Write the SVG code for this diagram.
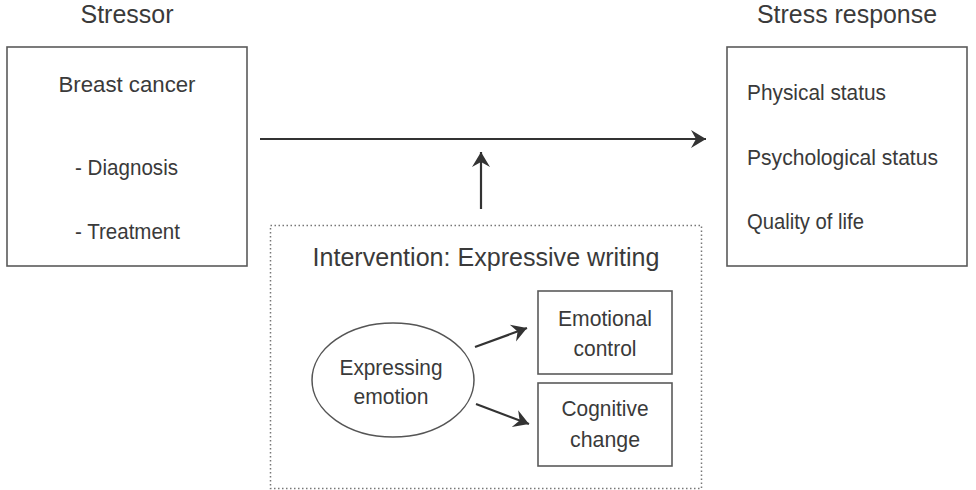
<svg xmlns="http://www.w3.org/2000/svg" width="976" height="490" viewBox="0 0 976 490">
<defs>
<style>
text{font-family:"Liberation Sans",Arial,sans-serif;fill:#3a3a3a;}
.box{fill:#fff;stroke:#5a5a5a;stroke-width:1.6;}
.edge{stroke:#333;stroke-width:2.2;fill:none;}
.title{font-size:25px;}
.lbl{font-size:22px;}
</style>
<marker id="ah" viewBox="-16 -10 18 20" markerWidth="18" markerHeight="20" refX="0" refY="0" orient="auto" markerUnits="userSpaceOnUse">
<path d="M0,0 L-15,-9 L-10,0 L-15,9 Z" fill="#333"/>
</marker>
</defs>
<rect width="976" height="490" fill="#fff"/>
<g id="stressor">
<text class="title" x="127" y="23" text-anchor="middle" textLength="93" lengthAdjust="spacingAndGlyphs">Stressor</text>
<rect class="box" x="7" y="47" width="240" height="219"/>
<text class="lbl" x="127" y="92" text-anchor="middle" textLength="137" lengthAdjust="spacingAndGlyphs">Breast cancer</text>
<text class="lbl" x="75" y="175" textLength="103" lengthAdjust="spacingAndGlyphs">- Diagnosis</text>
<text class="lbl" x="75" y="239" textLength="105" lengthAdjust="spacingAndGlyphs">- Treatment</text>
</g>
<g id="response">
<text class="title" x="847" y="23" text-anchor="middle" textLength="180" lengthAdjust="spacingAndGlyphs">Stress response</text>
<rect class="box" x="727" y="47" width="240" height="219"/>
<text class="lbl" x="747" y="100" textLength="139" lengthAdjust="spacingAndGlyphs">Physical status</text>
<text class="lbl" x="747" y="165" textLength="191" lengthAdjust="spacingAndGlyphs">Psychological status</text>
<text class="lbl" x="747" y="229" textLength="117" lengthAdjust="spacingAndGlyphs">Quality of life</text>
</g>
<g id="intervention">
<rect x="270.5" y="225.5" width="431" height="263" fill="none" stroke="#777" stroke-width="1.5" stroke-dasharray="1.5 2.5"/>
<text class="title" x="486" y="266" text-anchor="middle" textLength="347" lengthAdjust="spacingAndGlyphs">Intervention: Expressive writing</text>
</g>
<g id="expressing">
<ellipse cx="393" cy="380" rx="81" ry="57" fill="#fff" stroke="#555" stroke-width="1.5"/>
<text class="lbl" x="391" y="375" text-anchor="middle" textLength="103" lengthAdjust="spacingAndGlyphs">Expressing</text>
<text class="lbl" x="391" y="404" text-anchor="middle" textLength="75" lengthAdjust="spacingAndGlyphs">emotion</text>
</g>
<g id="emotional">
<rect class="box" x="538" y="291" width="134" height="83"/>
<text class="lbl" x="605" y="326" text-anchor="middle" textLength="94" lengthAdjust="spacingAndGlyphs">Emotional</text>
<text class="lbl" x="605" y="356" text-anchor="middle" textLength="63" lengthAdjust="spacingAndGlyphs">control</text>
</g>
<g id="cognitive">
<rect class="box" x="538" y="383" width="134" height="83"/>
<text class="lbl" x="605" y="416" text-anchor="middle" textLength="87" lengthAdjust="spacingAndGlyphs">Cognitive</text>
<text class="lbl" x="605" y="447" text-anchor="middle" textLength="70" lengthAdjust="spacingAndGlyphs">change</text>
</g>
<g id="connectors">
<line class="edge" x1="260" y1="139" x2="706" y2="139" marker-end="url(#ah)"/>
<line class="edge" x1="481" y1="209" x2="481" y2="152" marker-end="url(#ah)"/>
<line class="edge" x1="475" y1="347" x2="527" y2="328" marker-end="url(#ah)"/>
<line class="edge" x1="476" y1="404" x2="529" y2="424" marker-end="url(#ah)"/>
</g>
</svg>
